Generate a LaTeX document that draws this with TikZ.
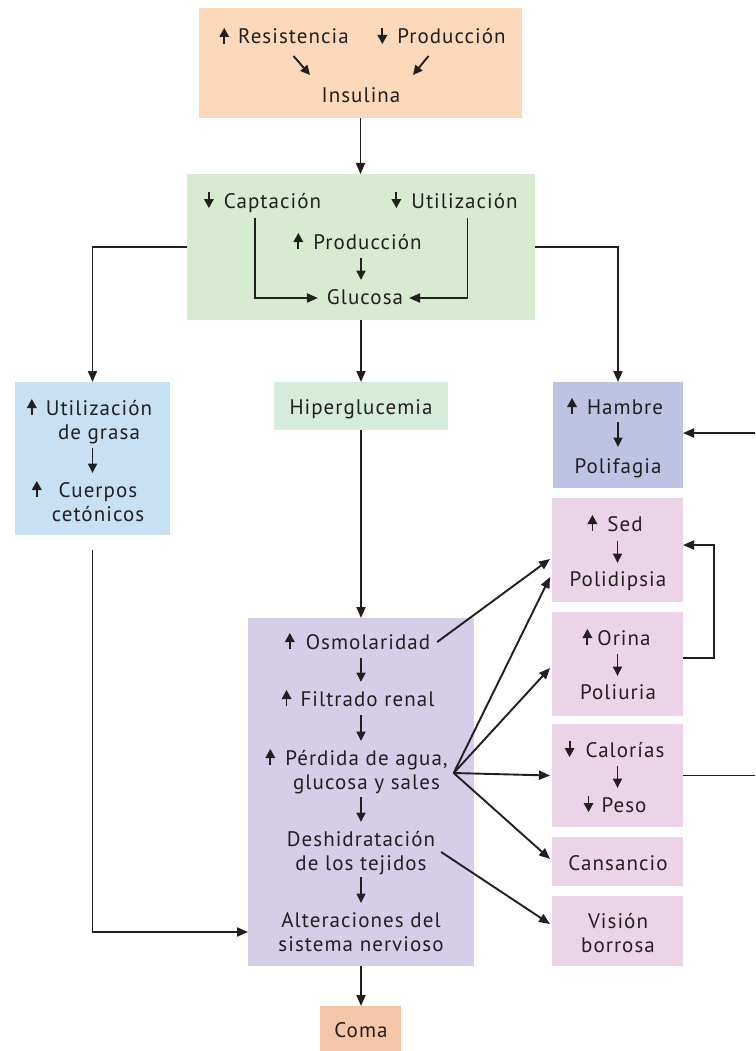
\documentclass[tikz,border=0pt]{standalone}
\usepackage{fontspec}
\setmainfont{PT Sans}[LetterSpace=5]
\usetikzlibrary{arrows.meta,calc}

\definecolor{ink}{HTML}{231F20}
\definecolor{cPeach}{HTML}{FBD9BA}
\definecolor{cSalmon}{HTML}{F5C5A7}
\definecolor{cGreen}{HTML}{D7EBD1}
\definecolor{cMint}{HTML}{D4ECD9}
\definecolor{cSky}{HTML}{C8E0F3}
\definecolor{cPeri}{HTML}{BEC3E4}
\definecolor{cLilac}{HTML}{D6CEE8}
\definecolor{cPink}{HTML}{EBD4E8}

\tikzset{
  box/.style={draw=none, inner sep=0pt, outer sep=0pt},
  lbl/.style={inner sep=0pt, outer sep=0pt, anchor=base, align=center, text=ink},
  arr/.style={draw=ink, line width=1.9pt, -{Triangle[length=11pt,width=9pt]}},
  inarr/.style={draw=ink, line width=1.9pt, -{Triangle[length=9.5pt,width=9pt]}},
  plain/.style={draw=ink, line width=1.9pt},
  % small up / down arrows set in front of a word (y axis points down)
  gup/.pic={\draw[ink, line width=1.8pt] (0,0) -- (0,-8);
            \fill[ink] (-5,-7) -- (5,-7) -- (0,-16) -- cycle;},
  gdn/.pic={\draw[ink, line width=1.8pt] (0,-16) -- (0,-8);
            \fill[ink] (-5,-9) -- (5,-9) -- (0,0) -- cycle;},
}

\begin{document}
\begin{tikzpicture}[x=1pt, y=-1pt, font=\fontsize{21}{24}\selectfont]
\useasboundingbox (0,0) rectangle (755,1051);

% ---------- boxes ----------
\node[box, fill=cPeach,  minimum width=323, minimum height=110] (bIns)  at (360.5,63)   {};
\node[box, fill=cGreen,  minimum width=348, minimum height=146] (bGreen) at (361,247)   {};
\node[box, fill=cSky,    minimum width=155, minimum height=153] (bFat)  at (92.5,458.5) {};
\node[box, fill=cMint,   minimum width=174, minimum height=48]  (bHip)  at (361,406)    {};
\node[box, fill=cPeri,   minimum width=130, minimum height=106] (bHam)  at (618,435)    {};
\node[box, fill=cLilac,  minimum width=226, minimum height=348] (bPur)  at (361,792)    {};
\node[box, fill=cPink,   minimum width=131, minimum height=104] (bSed)  at (617.5,550)  {};
\node[box, fill=cPink,   minimum width=131, minimum height=104] (bOri)  at (617.5,664)  {};
\node[box, fill=cPink,   minimum width=131, minimum height=103] (bCal)  at (617.5,775.5) {};
\node[box, fill=cPink,   minimum width=131, minimum height=49]  (bCans) at (617.5,861.5) {};
\node[box, fill=cPink,   minimum width=131, minimum height=70]  (bVis)  at (617.5,931)  {};
\node[box, fill=cSalmon, minimum width=81,  minimum height=45]  (bComa) at (360.5,1028.5) {};

% ---------- texts (two-line labels sit on the baseline of their last line) ----------
\node[lbl] (res)   at (293.5,44)  {Resistencia};
\node[lbl] (prodA) at (451.5,44)  {Producción};
\node[lbl] (ins)   at (361,103)   {Insulina};

\node[lbl] (capt)  at (272.5,208) {Captación};
\node[lbl] (util)  at (464.5,208) {Utilización};
\node[lbl] (prodB) at (367.5,249) {Producción};
\node[lbl] (glu)   at (365,304)   {Glucosa};

\node[lbl] (ug)    at (99,439)    {Utilización\\de grasa};
\node[lbl] (cc)    at (98,521)    {Cuerpos\\cetónicos};

\node[lbl] (hip)   at (361,414)   {Hiperglucemia};

\node[lbl] (ham)   at (625,414)   {Hambre};
\node[lbl] (polif) at (618,473)   {Polifagia};

\node[lbl] (osm)   at (368,649)   {Osmolaridad};
\node[lbl] (fil)   at (367.5,706) {Filtrado renal};
\node[lbl] (per)   at (366.5,789) {Pérdida de agua,\\glucosa y sales};
\node[lbl] (des)   at (361,870)   {Deshidratación\\de los tejidos};
\node[lbl] (alt)   at (361,951)   {Alteraciones del\\sistema nervioso};

\node[lbl] (sed)   at (625,531)   {Sed};
\node[lbl] (polid) at (618,586)   {Polidipsia};
\node[lbl] (ori)   at (624,645)   {Orina};
\node[lbl] (poliu) at (618,699)   {Poliuria};
\node[lbl] (cal)   at (625,757)   {Calorías};
\node[lbl] (peso)  at (624,812)   {Peso};
\node[lbl] (cans)  at (618,870)   {Cansancio};
\node[lbl] (vis)   at (618,952)   {Visión\\borrosa};

\node[lbl] (coma)  at (361,1037)  {Coma};

% ---------- up / down marks ----------
\pic at ($(res.base west)+(-14,0)$)   {gup};
\pic at ($(prodA.base west)+(-15,0)$) {gdn};
\pic at ($(capt.base west)+(-15,0)$)  {gdn};
\pic at ($(util.base west)+(-15,0)$)  {gdn};
\pic at ($(prodB.base west)+(-15,0)$) {gup};
\pic at ($(ug.base west)+(-14,-24)$)  {gup};
\pic at ($(cc.base west)+(-15,-24)$)  {gup};
\pic at ($(ham.base west)+(-15,0)$)   {gup};
\pic at ($(osm.base west)+(-16,0)$)   {gup};
\pic at ($(fil.base west)+(-14,0)$)   {gup};
\pic at ($(per.base west)+(-15,-24)$) {gup};
\pic at ($(sed.base west)+(-15,0)$)   {gup};
\pic at ($(ori.base west)+(-10,0)$)   {gup};
\pic at ($(cal.base west)+(-16,0)$)   {gdn};
\pic at ($(peso.base west)+(-13,0)$)  {gdn};

% ---------- arrows inside the boxes ----------
\draw[inarr] ($(res.base)+(0,12)$)   -- ($(ins.base)+(-51,-28)$);
\draw[inarr] ($(prodA.base)+(-23,12)$) -- ($(ins.base)+(52,-28)$);

\coordinate (capL) at (255,218);
\coordinate (utiR) at (467.5,218);
\draw[arr] (capL) |- ($(glu.base west)+(-9,-6)$);
\draw[arr] (utiR) |- ($(glu.base east)+(6,-6)$);
\draw[inarr] ($(bGreen |- prodB.base)+(0,9)$) -- ($(bGreen |- glu.base)+(0,-24)$);

\draw[inarr] ($(bFat |- ug.base)+(0,9)$) -- ($(bFat |- cc.base)+(0,-48)$);
\draw[inarr] ($(bHam |- ham.base)+(0,8)$) -- ($(bHam |- polif.base)+(0,-26)$);

\draw[inarr] ($(bPur |- osm.base)+(0,9)$)  -- ($(bPur |- fil.base)+(0,-24)$);
\draw[inarr] ($(bPur |- fil.base)+(0,9)$)  -- ($(bPur |- per.base)+(0,-48)$);
\draw[inarr] ($(bPur |- per.base)+(0,8)$)  -- ($(bPur |- des.base)+(0,-48)$);
\draw[inarr] ($(bPur |- des.base)+(0,7)$)  -- ($(bPur |- alt.base)+(0,-48)$);

\draw[inarr] ($(bSed |- sed.base)+(0,10)$) -- ($(bSed |- polid.base)+(0,-23)$);
\draw[inarr] ($(bOri |- ori.base)+(0,9)$)  -- ($(bOri |- poliu.base)+(0,-23)$);
\draw[inarr] ($(bCal |- cal.base)+(0,9)$)  -- ($(bCal |- peso.base)+(0,-24)$);

% ---------- connectors between boxes ----------
\draw[arr] (bIns.south) -- (bIns.south |- bGreen.north);
\draw[arr] (bGreen.west) -| (bFat.north);
\draw[arr] (bGreen.east) -| (bHam.north);
\draw[arr] (bGreen.south) -- (bHip.north);
\draw[arr] (bHip.south) -- (bPur.north);
\draw[arr] (bPur.south) -- (bPur.south |- bComa.north);

\coordinate (fatOut) at ($(bFat.south)+(0,15)$);
\draw[arr] (fatOut) |- (bPur.west |- 0,932);

\coordinate (hIn) at (755,433);
\draw[arr] (hIn) -- (hIn -| bHam.east);

\coordinate (cOut) at (755,775.5);
\draw[plain] (bCal.east) -- (cOut);

\draw[arr] ($(bOri.east)+(0,-6)$) -- ++(31,0) |- ($(bSed.east)+(0,-5)$);

% fan of consequences
\draw[arr] ($(osm.base east)+(7,-7)$) -- ($(bSed.west)+(-2,9)$);
\coordinate (fan) at ($(per.base east)+(6,-16)$);
\draw[arr] (fan) -- ($(bSed.west)+(-2,27)$);
\draw[arr] (fan) -- ($(bOri.west)+(-2,4)$);
\draw[arr] (fan) -- ($(bCal.west)+(-2,0)$);
\draw[arr] (fan) -- ($(bCans.west)+(-2,-2.5)$);
\draw[arr] ($(des.base east)+(6,-18)$) -- ($(bVis.west)+(-2,-7)$);

\end{tikzpicture}
\end{document}
